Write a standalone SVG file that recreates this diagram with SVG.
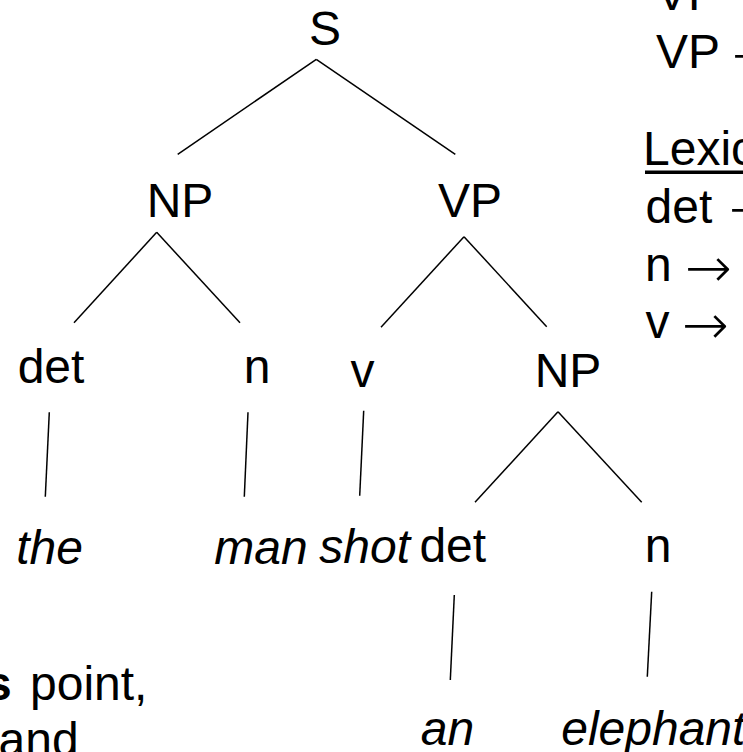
<svg xmlns="http://www.w3.org/2000/svg" width="743" height="752" viewBox="0 0 743 752">
<style>
text{font-family:"Liberation Sans",Arial,sans-serif;font-size:48px;fill:#000}
.m{text-anchor:middle}
.i{font-style:italic}
.a{font-family:"DejaVu Sans",sans-serif;font-size:56px;font-weight:200}
.c line{stroke:#000;stroke-width:1.5;stroke-linecap:butt}
</style>
<rect width="743" height="752" fill="#fff"/>
<g class="c" id="connectors">
<line x1="316.3" y1="59.3" x2="177.7" y2="154.3"/>
<line x1="316.3" y1="59.3" x2="455.3" y2="154.3"/>
<line x1="156.7" y1="232.3" x2="74" y2="322.7"/>
<line x1="156.7" y1="232.3" x2="240" y2="322.7"/>
<line x1="464" y1="236.7" x2="381" y2="327.3"/>
<line x1="464" y1="236.7" x2="546.7" y2="326.7"/>
<line x1="558" y1="411.7" x2="475" y2="502.3"/>
<line x1="558" y1="411.7" x2="641.7" y2="502.3"/>
<line x1="49.3" y1="412.3" x2="45.3" y2="496.7"/>
<line x1="248" y1="412.3" x2="244.3" y2="496.7"/>
<line x1="363.7" y1="410.7" x2="359.7" y2="495.7"/>
<line x1="454.3" y1="595" x2="450.3" y2="680"/>
<line x1="651.7" y1="591.7" x2="647.3" y2="676.7"/>
</g>
<g id="n-S"><text class="m" x="325" y="45">S</text></g>
<g id="n-NP1"><text class="m" x="180" y="217">NP</text></g>
<g id="n-VP"><text class="m" x="470" y="217">VP</text></g>
<g id="n-det1"><text class="m" x="51" y="383">det</text></g>
<g id="n-n1"><text class="m" x="257" y="383">n</text></g>
<g id="n-v"><text class="m" x="362.5" y="387">v</text></g>
<g id="n-NP2"><text class="m" x="568" y="387">NP</text></g>
<g id="n-det2"><text class="m" x="452.8" y="562">det</text></g>
<g id="n-n2"><text class="m" x="658" y="562">n</text></g>
<g id="w-the"><text class="m i" x="49.5" y="564">the</text></g>
<g id="w-man"><text class="m i" x="261" y="564">man</text></g>
<g id="w-shot"><text class="m i" x="364.7" y="563">shot</text></g>
<g id="w-an"><text class="m i" x="447.5" y="745">an</text></g>
<g id="w-elephant"><text class="m i" x="653.3" y="745">elephant</text></g>
<g id="grammar">
<text x="656" y="10">VP</text><text class="a" x="732" y="16">→</text>
<text x="656" y="68">VP</text><text class="a" x="732" y="74">→</text>
<text x="643" y="165">Lexic</text>
<rect x="645" y="170.5" width="98" height="3.5" fill="#000"/>
<text x="645.5" y="223">det</text><text class="a" x="729" y="228">→</text>
<text x="645" y="281">n</text><text class="a" x="685" y="287">→</text>
<text x="645.5" y="338">v</text><text class="a" x="682" y="344">→</text>
</g>
<g id="note">
<text x="-15" y="700"><tspan font-weight="bold">s</tspan><tspan x="30">point,</tspan></text>
<text x="-1.5" y="756">and</text>
</g>
</svg>
